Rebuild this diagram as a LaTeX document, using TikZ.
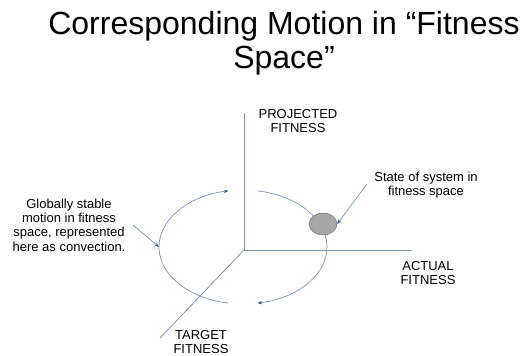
\documentclass[tikz,border=0pt]{standalone}
\usepackage{fontspec}
\setmainfont{Liberation Sans}
\usepackage{tikz}
\usetikzlibrary{arrows.meta, positioning, shapes.geometric}

\definecolor{axisblue}{RGB}{120,146,192}
\definecolor{tipblue}{RGB}{47,85,151}
\definecolor{stategray}{RGB}{166,166,166}

\tikzset{
  axisline/.style={draw=axisblue, line width=0.8pt},
  flow/.style={draw=axisblue, line width=0.7pt, -{Stealth[length=4.5pt,width=3.5pt,color=tipblue]}},
  pointer/.style={draw=axisblue, line width=0.7pt, -{Stealth[length=4.5pt,width=3.5pt,color=tipblue]}},
  lbl/.style={align=center, font=\fontsize{13}{14.4}\selectfont, inner sep=0pt}
}

\begin{document}
\begin{tikzpicture}[x=1pt,y=-1pt]
\useasboundingbox (0,0) rectangle (523,356);

% Title
\node (title) [align=center, font=\fontsize{32}{34}\selectfont, inner sep=0pt] at (284,43) {Corresponding Motion in “Fitness\\Space”};

% axes
\coordinate (origin) at (244,250);
\coordinate (projtop) at (244,113);
\coordinate (actend) at (412,250);
\coordinate (tgtend) at (160,338);
\draw [axisline] (origin) -- (projtop);
\draw [axisline] (origin) -- (actend);
\draw [axisline] (origin) -- (tgtend);

% convection loop
\coordinate (orbit) at (243,247);
\draw [flow] (orbit) ++(100:84 and 57) arc [start angle=100, end angle=260, x radius=84, y radius=57];
\draw [flow] (orbit) ++(-80:84 and 57) arc [start angle=-80, end angle=80, x radius=84, y radius=57];

% state of the system
\node (state) [ellipse, draw=gray!80!black, fill=stategray, minimum width=28pt, minimum height=22pt, inner sep=0pt] at (323,224) {};

% Text Node
\node (projlbl) [lbl] at (298,121) {PROJECTED\\FITNESS};
% Text Node
\node (actlbl) [lbl] at (428,273) {ACTUAL\\FITNESS};
% Text Node
\node (tgtlbl) [lbl] at (201,342) {TARGET\\FITNESS};
% Text Node
\node (statelbl) [lbl] at (426,185) {State of system in\\fitness space};
% Text Node
\node (motionlbl) [lbl] at (69,225) {Globally stable\\motion in fitness\\space, represented\\here as convection.};

% pointers
\coordinate (statefrom) at (367,184);
\coordinate (motionfrom) at (133,225);
\coordinate (loopleft) at (159,247);
\draw [pointer] (statefrom) -- (state.east);
\draw [pointer] (motionfrom) -- (loopleft);

\end{tikzpicture}
\end{document}
